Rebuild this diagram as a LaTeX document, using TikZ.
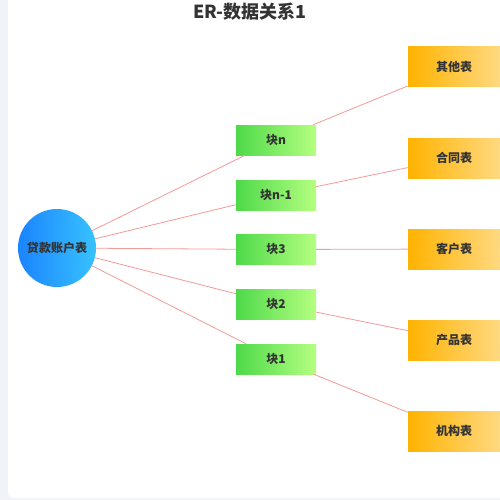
\documentclass[tikz,border=0pt]{standalone}
\usepackage{fontspec}
\newfontfamily\cjk{Noto Sans CJK SC}
\usetikzlibrary{shapes.geometric}
\definecolor{bgpage}{HTML}{F2F3F8}
\definecolor{txt}{HTML}{333333}
\definecolor{linkc}{HTML}{F59A9A}
\definecolor{blueL}{HTML}{1A84FF}
\definecolor{blueR}{HTML}{38C2FF}
\definecolor{greenL}{HTML}{4ED94A}
\definecolor{greenR}{HTML}{B5FF80}
\definecolor{orangeL}{HTML}{FFB300}
\definecolor{orangeR}{HTML}{FFD980}
\tikzset{
  hub/.style={circle, minimum size=78pt, inner sep=0pt, left color=blueL, right color=blueR, draw=none, font=\cjk\bfseries\fontsize{12}{14}\selectfont, text=txt},
  blk/.style={rectangle, minimum width=80pt, minimum height=30pt, inner sep=0pt, left color=greenL, right color=greenR, draw=none, font=\cjk\bfseries\fontsize{12}{14}\selectfont, text=txt},
  tbl/.style={rectangle, minimum width=92pt, minimum height=40pt, inner sep=0pt, left color=orangeL, right color=orangeR, draw=none, font=\cjk\bfseries\fontsize{12}{14}\selectfont, text=txt},
  link/.style={draw=linkc, line width=0.8pt},
  ttl/.style={font=\cjk\bfseries\fontsize{18}{21}\selectfont, text=txt}
}
\begin{document}
\begin{tikzpicture}[x=1pt,y=-1pt]
\useasboundingbox (0,0) rectangle (500,500);
\fill[bgpage] (0,0) rectangle (500,500);
\fill[white, rounded corners=6pt] (8,-10) rectangle (510,498);
\node[ttl] (title) at (250,12) {ER-数据关系1};
\node[hub] (hub) at (57,248) {贷款账户表};
\node[blk] (bn) at (276,140) {块n};
\node[blk] (bn1) at (276,195) {块n-1};
\node[blk] (b3) at (276,249.5) {块3};
\node[blk] (b2) at (276,304) {块2};
\node[blk] (b1) at (276,359) {块1};
\node[tbl] (t1) at (454,67) {其他表};
\node[tbl] (t2) at (454,158) {合同表};
\node[tbl] (t3) at (454,249) {客户表};
\node[tbl] (t4) at (454,340) {产品表};
\node[tbl] (t5) at (454,431) {机构表};
\draw[link] (hub) -- (bn);
\draw[link] (hub) -- (bn1);
\draw[link] (hub) -- (b3);
\draw[link] (hub) -- (b2);
\draw[link] (hub) -- (b1);
\draw[link] (bn) -- (t1);
\draw[link] (bn1) -- (t2);
\draw[link] (b3) -- (t3);
\draw[link] (b2) -- (t4);
\draw[link] (b1) -- (t5);
\end{tikzpicture}
\end{document}
